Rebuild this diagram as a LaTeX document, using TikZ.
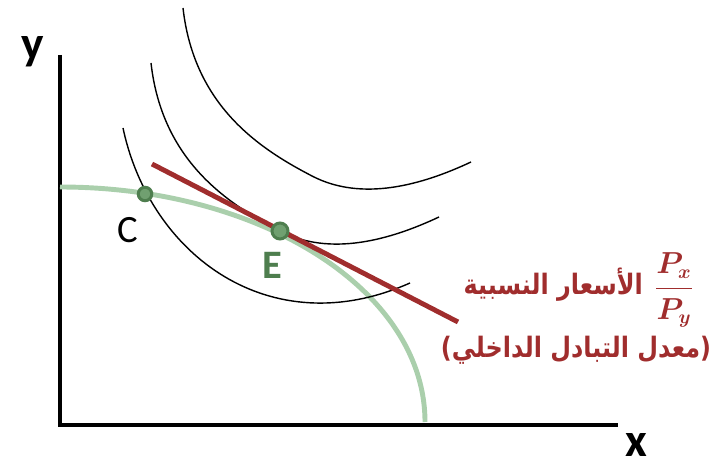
\documentclass[tikz,border=0pt]{standalone}
\usepackage{amsmath}
\usepackage{fontspec}
\setmainfont{Carlito}
\newfontfamily\arabicfont[Script=Arabic, FakeStretch=0.85]{DejaVu Sans}
\TeXXeTstate=1
\usetikzlibrary{positioning}

\definecolor{relred}{RGB}{160,45,45}
\definecolor{ppfgreen}{RGB}{170,207,172}
\definecolor{ptgreen}{RGB}{78,126,78}
\definecolor{ptfill}{RGB}{112,160,112}

\begin{document}
\begin{tikzpicture}[
  x=0.02cm, y=-0.02cm,
  axis/.style={line width=2.6pt},
  icurve/.style={line width=0.8pt},
  ppf/.style={draw=ppfgreen, line width=2.8pt},
  price/.style={draw=relred, line width=2.8pt},
  pt/.style={circle, draw=ptgreen, fill=ptfill, line width=1.7pt, inner sep=0pt},
  axlbl/.style={font=\fontsize{27}{30}\selectfont\bfseries, inner sep=0pt},
  arlbl/.style={text=relred, inner sep=1pt},
]
\useasboundingbox (0,0) rectangle (710,462);

% axes
\coordinate (O) at (60,425);
\coordinate (ytop) at (60,55);
\coordinate (xend) at (618,425);
\draw[axis] (ytop) -- (O) -- (xend);
\node[axlbl] (ylab) at (33,52) {y};
\node[axlbl] (xlab) at (636,445) {x};

% production possibility frontier
\coordinate (ppfa) at (60,187);
\coordinate (ppfb) at (425,422);
\draw[ppf] (ppfa) .. controls (262,187) and (425,291) .. (ppfb);

% indifference curves
\draw[icurve] (123,128) .. controls (150,255) and (270,345) .. (410,283);
\draw[icurve] (151,63) .. controls (162,160) and (226,203) .. (280,231)
  .. controls (330,257) and (390,240) .. (439,217);
\draw[icurve] (183,8) .. controls (194,105) and (258,148) .. (312,176)
  .. controls (362,202) and (422,185) .. (471,162);

% relative price line
\coordinate (pa) at (152,164);
\coordinate (pb) at (458,322);
\draw[price] (pa) -- (pb);

% points
\node[pt, minimum size=0.27cm] (C) at (145,194) {};
\node[pt, minimum size=0.32cm] (E) at (280,231) {};
\node[font=\fontsize{22}{26}\selectfont] (clab) at (128,230) {C};
\node[font=\fontsize{23}{26}\selectfont\bfseries, text=ptgreen] (elab) at (272,265) {E};

% labels
\node[arlbl, font=\fontsize{16}{20}\selectfont] (frac) at (674,290) {$\boldsymbol{\dfrac{P_x}{P_y}}$};
\node[arlbl, font=\fontsize{16}{20}\selectfont\bfseries, left=4pt of frac, yshift=3pt] (rel) {\arabicfont\beginR الأسعار النسبية\endR};
\node[arlbl, font=\fontsize{16}{20}\selectfont\bfseries] (exch) at (576,350) {\arabicfont\beginR (معدل التبادل الداخلي)\endR};
\end{tikzpicture}
\end{document}
